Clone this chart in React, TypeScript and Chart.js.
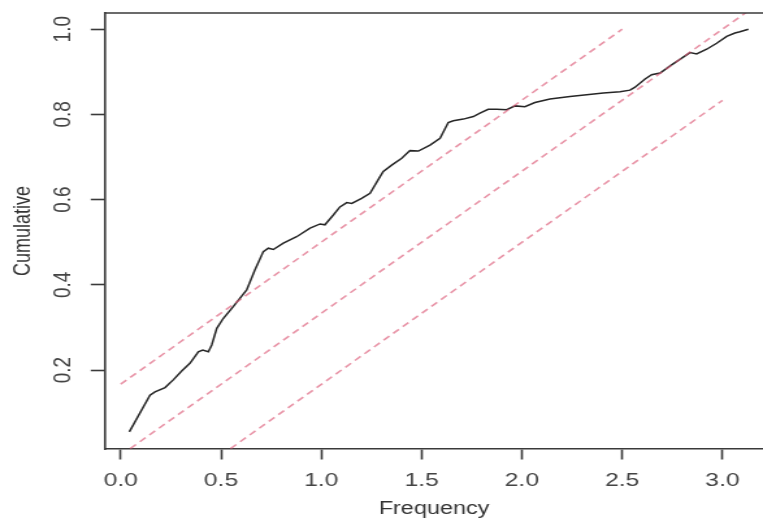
import React, { useEffect, useRef } from "react";
import { Chart, registerables } from "chart.js";

Chart.register(...registerables);

// Cumulative periodogram
const freq = [
  0.043, 0.146, 0.171, 0.221, 0.262, 0.304, 0.345, 0.387, 0.409, 0.437,
  0.454, 0.479, 0.511, 0.561, 0.628, 0.669, 0.711, 0.736, 0.761, 0.811,
  0.877, 0.944, 0.994, 1.018, 1.06, 1.093, 1.127, 1.152, 1.201, 1.243,
  1.293, 1.309, 1.351, 1.401, 1.442, 1.484, 1.542, 1.592, 1.633, 1.658,
  1.708, 1.758, 1.791, 1.832, 1.874, 1.924, 1.966, 2.015, 2.065, 2.14,
  2.24, 2.323, 2.406, 2.489, 2.539, 2.564, 2.614, 2.647, 2.689, 2.739,
  2.797, 2.838, 2.871, 2.921, 2.971, 3.021, 3.062, 3.087, 3.129,
];
const cumulative = [
  0.055, 0.141, 0.149, 0.159, 0.177, 0.198, 0.216, 0.243, 0.247, 0.243,
  0.259, 0.298, 0.321, 0.349, 0.388, 0.435, 0.478, 0.486, 0.483, 0.498,
  0.513, 0.533, 0.543, 0.541, 0.564, 0.583, 0.593, 0.591, 0.603, 0.615,
  0.654, 0.666, 0.681, 0.697, 0.715, 0.714, 0.728, 0.744, 0.781, 0.785,
  0.789, 0.795, 0.803, 0.812, 0.812, 0.811, 0.82, 0.818, 0.828, 0.836,
  0.842, 0.846, 0.85, 0.853, 0.857, 0.864, 0.883, 0.893, 0.897, 0.914,
  0.932, 0.945, 0.942, 0.953, 0.967, 0.983, 0.991, 0.994, 1.0,
];

// Reference / confidence lines (endpoints)
const upperX = [0, 2.5];
const upperY = [0.167, 1.0];
const middleX = [0, 3.3];
const middleY = [0, 1.1];
const lowerX = [0.5, 3.0];
const lowerY = [0, 0.833];

const xTicks = [0, 0.5, 1.0, 1.5, 2.0, 2.5, 3.0];
const yTicks = [0.2, 0.4, 0.6, 0.8, 1.0];

const xTitle = "Frequency";
const yTitle = "Cumulative";

const pts = (xs: number[], ys: number[]) => xs.map((x, i) => ({ x, y: ys[i] }));

const CANVAS_W = 587;
const CANVAS_H = 522;
const FRAME = "#3a3a3a";
const FONT = "'Liberation Sans', Arial, sans-serif";

const framePlugin = {
  id: "frameTop",
  afterDraw(chart: any) {
    const { ctx, chartArea } = chart;
    ctx.save();
    ctx.strokeStyle = FRAME;
    ctx.lineWidth = 1.6;
    ctx.beginPath();
    ctx.moveTo(chartArea.left, chartArea.top);
    ctx.lineTo(chartArea.right, chartArea.top);
    ctx.stroke();
    ctx.restore();
  },
};

const zeroPad = (s: any) => {
  s.paddingTop = 0;
  s.paddingBottom = 0;
  s.paddingLeft = 0;
  s.paddingRight = 0;
};

export default function App() {
  const ref = useRef<HTMLCanvasElement | null>(null);

  useEffect(() => {
    if (!ref.current) return;
    const dashed = {
      borderColor: "rgba(220,90,120,0.65)",
      borderWidth: 1.6,
      borderDash: [6, 4],
      pointRadius: 0,
      fill: false,
      tension: 0,
    };
    const chart = new Chart(ref.current, {
      type: "line",
      data: {
        datasets: [
          { ...dashed, data: pts(upperX, upperY) },
          { ...dashed, data: pts(middleX, middleY) },
          { ...dashed, data: pts(lowerX, lowerY) },
          {
            data: pts(freq, cumulative),
            borderColor: "#262626",
            borderWidth: 1.5,
            pointRadius: 0,
            fill: false,
            tension: 0,
          },
        ],
      },
      options: {
        animation: false,
        responsive: false,
        devicePixelRatio: 1,
        layout: { padding: { top: 13, right: 0, left: 0, bottom: 0 } },
        plugins: { legend: { display: false }, tooltip: { enabled: false } },
        scales: {
          x: {
            type: "linear",
            position: "bottom",
            min: -0.078,
            max: 3.202,
            afterBuildTicks: (s: any) => {
              s.ticks = xTicks.map((v) => ({ value: v }));
            },
            afterFit: (s: any) => {
              s.height = 73;
              zeroPad(s);
            },
            grid: { drawOnChartArea: false, tickLength: 10.5, tickColor: FRAME, tickWidth: 1.6 },
            border: { display: true, color: FRAME, width: 1.6 },
            ticks: {
              autoSkip: false,
              maxRotation: 0,
              minRotation: 0,
              padding: 10,
              color: "#444",
              font: { family: FONT, size: 19 },
              callback: (v: any) => Number(v).toFixed(1),
            },
            title: {
              display: true,
              text: xTitle,
              color: "#333",
              font: { family: FONT, size: 18 },
              padding: { top: 0, bottom: 2 },
            },
          },
          y: {
            type: "linear",
            position: "left",
            min: 0.0148,
            max: 1.038,
            afterBuildTicks: (s: any) => {
              s.ticks = yTicks.map((v) => ({ value: v }));
            },
            afterFit: (s: any) => {
              s.width = 80.8;
              zeroPad(s);
            },
            grid: { drawOnChartArea: false, tickLength: 11, tickColor: FRAME, tickWidth: 1.6 },
            border: { display: true, color: FRAME, width: 1.6 },
            ticks: {
              autoSkip: false,
              minRotation: 90,
              maxRotation: 90,
              crossAlign: "center",
              padding: 8,
              color: "#444",
              font: { family: FONT, size: 19 },
              callback: (v: any) => Number(v).toFixed(1),
            },
            title: {
              display: true,
              text: yTitle,
              color: "#333",
              font: { family: FONT, size: 18 },
              padding: { top: 7.4, bottom: 0 },
            },
          },
        },
      },
      plugins: [framePlugin],
    } as any);
    return () => chart.destroy();
  }, []);

  return (
    <div
      style={{
        position: "fixed",
        left: 0,
        top: 0,
        width: 763,
        height: 522,
        background: "#fff",
        overflow: "hidden",
      }}
    >
      <canvas
        ref={ref}
        width={CANVAS_W}
        height={CANVAS_H}
        style={{ width: "763px", height: "522px", display: "block" }}
      />
    </div>
  );
}
